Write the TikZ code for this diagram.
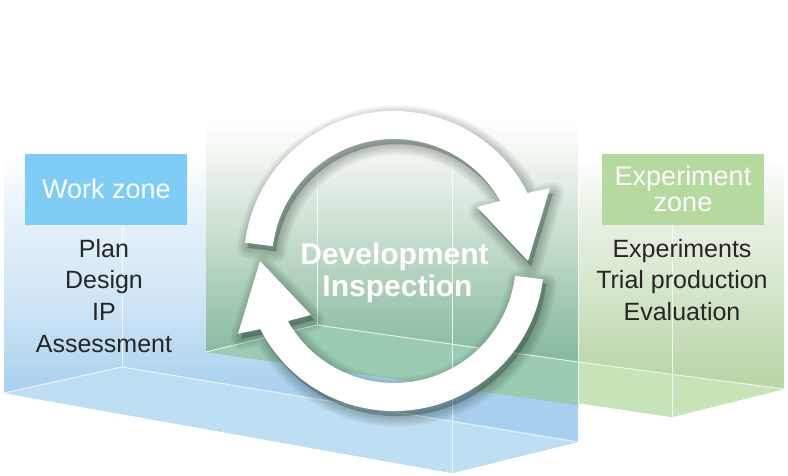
\documentclass[tikz,border=0pt]{standalone}
\usepackage{fontspec}
\setmainfont{Liberation Sans}
\usetikzlibrary{calc}

\definecolor{wzfill}{HTML}{7FCDF4}
\definecolor{ezfill}{HTML}{B5D99E}
\definecolor{bluebot}{HTML}{A8D0EE}
\definecolor{bluemid}{HTML}{CDE4F5}
\definecolor{bluehi}{HTML}{ECF5FB}
\definecolor{bluefloor}{HTML}{BEDEF4}
\definecolor{greenbot}{HTML}{88BBA2}
\definecolor{greenA}{HTML}{A3C9B2}
\definecolor{greenB}{HTML}{BDD8C5}
\definecolor{greenC}{HTML}{DDEADF}
\definecolor{greenD}{HTML}{F4F7F3}
\definecolor{greenfloor}{HTML}{9BCBB2}
\definecolor{expbot}{HTML}{BAD5A8}
\definecolor{expA}{HTML}{D6E6CC}
\definecolor{expB}{HTML}{EDF4EA}
\definecolor{expfloor}{HTML}{C7E3B8}
\definecolor{txtdark}{HTML}{262626}
\definecolor{shadowdark}{HTML}{1E3328}

\pgfdeclareverticalshading{blueface}{100bp}{color(0bp)=(bluebot); color(37bp)=(bluebot); color(50bp)=(bluemid); color(66bp)=(bluehi); color(72bp)=(white); color(100bp)=(white)}
\pgfdeclareverticalshading{greenface}{100bp}{color(0bp)=(greenbot); color(41bp)=(greenbot); color(48bp)=(greenA); color(54bp)=(greenB); color(62bp)=(greenC); color(68bp)=(greenD); color(72bp)=(white); color(100bp)=(white)}
\pgfdeclareverticalshading{expface}{100bp}{color(0bp)=(expbot); color(39bp)=(expbot); color(52.5bp)=(expA); color(65bp)=(expB); color(71bp)=(white); color(100bp)=(white)}

% the two ring arrows, drawn about the origin of the current scope
\def\upperarrow{(173:150) arc[start angle=173,end angle=27,radius=150]
  -- (25:172) -- (0:134) -- (33:99) -- (29.5:122)
  arc[start angle=29.5,end angle=173,radius=122] -- cycle}
\def\lowerarrow{(353:150) arc[start angle=353,end angle=207,radius=150]
  -- (205:172) -- (180:134) -- (213:99) -- (209.5:122)
  arc[start angle=209.5,end angle=353,radius=122] -- cycle}

\begin{document}
\begin{tikzpicture}[x=1pt,y=1pt,
  edgeline/.style={white,line width=0.9pt,opacity=0.8},
  zonebox/.style={minimum width=162pt,minimum height=71pt,inner sep=0pt,draw=none},
  zonetitle/.style={text=white,font=\fontsize{27}{26}\selectfont,inner sep=0pt,anchor=base},
  listtxt/.style={text=txtdark,font=\fontsize{25}{30}\selectfont,inner sep=0pt,anchor=base},
  devtxt/.style={text=white,font=\bfseries\fontsize{30}{32}\selectfont,inner sep=0pt,anchor=base},
  ringarrow/.style={fill=white,draw=none},
  ringshadow/.style={fill=shadowdark,draw=shadowdark,line join=round,opacity=0.045}]

\useasboundingbox (0,0) rectangle (788,476);
\fill[white] (0,0) rectangle (788,476);

% corners
\coordinate (bFL) at (4,83);
\coordinate (bFR) at (452,3);
\coordinate (bBR) at (578,34);
\coordinate (bBL) at (122,109);
\coordinate (bBLtop) at (122,322);
\coordinate (bFRtop) at (452,371);
\coordinate (gFL) at (206,124);
\coordinate (gBL) at (317,151);
\coordinate (gBR) at (578,114);
\coordinate (gFR) at (578,71);
\coordinate (gBLtop) at (317,371);
\coordinate (eL) at (578,73);
\coordinate (eF) at (672,59);
\coordinate (eR) at (784,87);
\coordinate (eLtop) at (578,350);
\coordinate (eFtop) at (672,336);

% blue work box
\begin{scope}
  \clip (bFL) -- (bFR) -- (bBR) -- (578,336) -- (4,336) -- cycle;
  \shade[shading=blueface] (0,0) rectangle (600,340);
\end{scope}
\fill[bluefloor] (bFL) -- (bFR) -- (bBR) -- (bBL) -- cycle;

% green development box
\begin{scope}
  \clip (gFL) -- (gFR) -- (578,371) -- (206,371) -- cycle;
  \shade[shading=greenface] (200,0) rectangle (580,380);
\end{scope}
\fill[greenfloor] (gFL) -- (gBL) -- (gBR) -- (gFR) -- cycle;

% experiment box
\begin{scope}
  \clip (eL) -- (eF) -- (eR) -- (784,336) -- (578,336) -- cycle;
  \shade[shading=expface] (570,0) rectangle (790,345);
\end{scope}
\fill[expfloor] (gBR) -- (eL) -- (eF) -- (eR) -- cycle;

% edges
\draw[edgeline] (bBL) -- (bBLtop);
\draw[edgeline] (bFL) -- (bBL);
\draw[edgeline] (bBL) -- (bBR);
\draw[edgeline] (bFR) -- (bFRtop);
\draw[edgeline] (gFL) -- (gBL);
\draw[edgeline] (gBL) -- (gBR);
\draw[edgeline] (gBL) -- (gBLtop);
\draw[edgeline] (eL) -- (eLtop);
\draw[edgeline] (eF) -- (eFtop);
\draw[edgeline] (gBR) -- (eR);

% zone labels
\node[zonebox,fill=wzfill] (wz) at (106,286.5) {};
\node[zonetitle] (wzt) at (106.5,277) {Work zone};
\node[zonebox,fill=ezfill] (ez) at (683,286.5) {};
\node[zonetitle] (ezt1) at (683,290) {Experiment};
\node[zonetitle] (ezt2) at (683,264) {zone};

% lists
\node[listtxt] (l1) at (104,218.5) {Plan};
\node[listtxt] (l2) at (104,187) {Design};
\node[listtxt] (l3) at (104,155) {IP};
\node[listtxt] (l4) at (104,123) {Assessment};
\node[listtxt] (r1) at (682,218.5) {Experiments};
\node[listtxt] (r2) at (682,187) {Trial production};
\node[listtxt] (r3) at (682,155) {Evaluation};

% cycle arrows: soft shadow, then the white arrows
\coordinate (C) at (394,215);
\coordinate (Cs) at (397,210);
\begin{scope}[shift={(Cs)}]
  \foreach \w in {22,19,16,13,10,7,4,1}{
    \path[ringshadow,line width=\w pt] \upperarrow;
    \path[ringshadow,line width=\w pt] \lowerarrow;
  }
\end{scope}
\begin{scope}[shift={(C)}]
  \path[ringarrow] \upperarrow;
  \path[ringarrow] \lowerarrow;
\end{scope}

% centre text
\node[devtxt] (d1) at (394.5,211) {Development};
\node[devtxt] (d2) at (397.5,179) {Inspection};
\end{tikzpicture}
\end{document}
